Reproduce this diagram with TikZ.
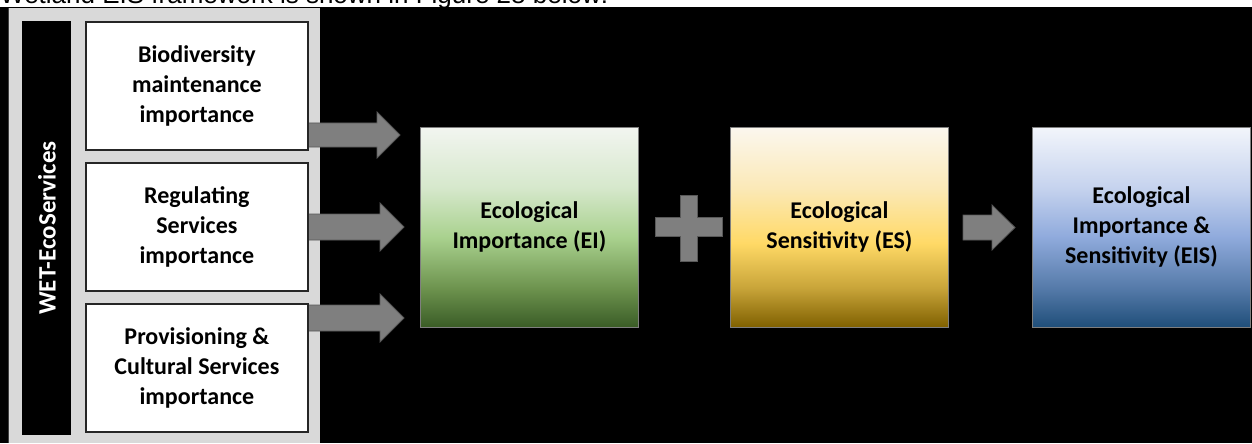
\documentclass[tikz,border=0pt]{standalone}
\usepackage{fontspec}
\setmainfont{Carlito}
\newfontfamily\arialfont{Liberation Sans}
\definecolor{panelgray}{HTML}{D9D9D9}
\definecolor{arrgray}{HTML}{7F7F7F}
\definecolor{arrline}{HTML}{595959}
\pgfdeclareverticalshading{eishade}{100bp}{
  color(0bp)=(rgb,255:red,58;green,92;blue,38);
  color(25bp)=(rgb,255:red,58;green,92;blue,38);
  color(35bp)=(rgb,255:red,110;green,148;blue,79);
  color(47.5bp)=(rgb,255:red,169;green,209;blue,142);
  color(60bp)=(rgb,255:red,214;green,232;blue,204);
  color(75bp)=(rgb,255:red,242;green,245;blue,240);
  color(100bp)=(rgb,255:red,242;green,245;blue,240)}
\pgfdeclareverticalshading{esshade}{100bp}{
  color(0bp)=(rgb,255:red,127;green,96;blue,0);
  color(25bp)=(rgb,255:red,127;green,96;blue,0);
  color(35bp)=(rgb,255:red,201;green,165;blue,58);
  color(46bp)=(rgb,255:red,255;green,217;blue,102);
  color(60bp)=(rgb,255:red,251;green,233;blue,184);
  color(75bp)=(rgb,255:red,251;green,247;blue,238);
  color(100bp)=(rgb,255:red,251;green,247;blue,238)}
\pgfdeclareverticalshading{eisshade}{100bp}{
  color(0bp)=(rgb,255:red,31;green,78;blue,121);
  color(25bp)=(rgb,255:red,31;green,78;blue,121);
  color(35bp)=(rgb,255:red,86;green,123;blue,170);
  color(47.5bp)=(rgb,255:red,143;green,170;blue,220);
  color(60bp)=(rgb,255:red,198;green,211;blue,238);
  color(75bp)=(rgb,255:red,242;green,245;blue,251);
  color(100bp)=(rgb,255:red,242;green,245;blue,251)}
\begin{document}
\begin{tikzpicture}[x=1pt,y=-1pt,
  txt/.style={font=\bfseries\fontsize{24}{30}\selectfont, align=center},
  svcbox/.style={txt, draw=black!85, line width=1.8pt, fill=white, minimum width=222pt, minimum height=128pt, anchor=north west, inner sep=0pt},
  bigbox/.style={txt, draw=arrgray, line width=0.8pt, minimum width=218pt, minimum height=200pt, anchor=north west, inner sep=0pt},
  blockarrow/.style={fill=arrgray, draw=arrline, line width=0.8pt}]
% background
\fill[white] (0,0) rectangle (1252,443);
\fill[black] (0,7) rectangle (1252,443);
\begin{scope}
  \clip (0,0) rectangle (1252,7);
  \node[anchor=base west, inner sep=0pt, font=\arialfont\fontsize{26}{26}\selectfont] (cap) at (0,4) {Wetland EIS framework is shown in Figure 28 below:};
\end{scope}
% panel
\fill[panelgray] (8,8) rectangle (320,443);
\draw[black!75, line width=1.5pt] (8.5,8) -- (8.5,443);
\node[fill=black, minimum width=49pt, minimum height=414pt, anchor=north west, inner sep=0pt] (bar) at (22,21) {};
\node[txt, text=white, rotate=90, font=\bfseries\fontsize{25}{30}\selectfont] (wet) at (47,228) {WET-EcoServices};
% arrows
\draw[blockarrow] (307,123) -- (377,123) -- (377,112) -- (400,135) -- (377,158) -- (377,147) -- (307,147) -- cycle;
\draw[blockarrow] (307,214) -- (380,214) -- (380,203) -- (404,227) -- (380,251) -- (380,240) -- (307,240) -- cycle;
\draw[blockarrow] (307,305) -- (380,305) -- (380,294) -- (404,318) -- (380,342) -- (380,331) -- (307,331) -- cycle;
% service boxes
\node[svcbox] (b1) at (85,21) {Biodiversity\\maintenance\\importance};
\node[svcbox] (b2) at (85,162) {Regulating\\Services\\importance};
\node[svcbox] (b3) at (85,303) {Provisioning \&\\Cultural Services\\importance};
% big boxes
\node[bigbox, shading=eishade] (ei) at (420,127) {Ecological\\Importance (EI)};
\node[bigbox, shading=esshade] (es) at (730,127) {Ecological\\Sensitivity (ES)};
\node[bigbox, shading=eisshade] (eis) at (1032,127) {Ecological\\Importance \&\\Sensitivity (EIS)};
% plus
\draw[blockarrow] (680,195) -- (697,195) -- (697,217) -- (722,217) -- (722,236) -- (697,236) -- (697,261) -- (680,261) -- (680,236) -- (655,236) -- (655,217) -- (680,217) -- cycle;
% arrow ES -> EIS
\draw[blockarrow] (963,215) -- (992,215) -- (992,205) -- (1015,227.5) -- (992,250) -- (992,240) -- (963,240) -- cycle;
\end{tikzpicture}
\end{document}
